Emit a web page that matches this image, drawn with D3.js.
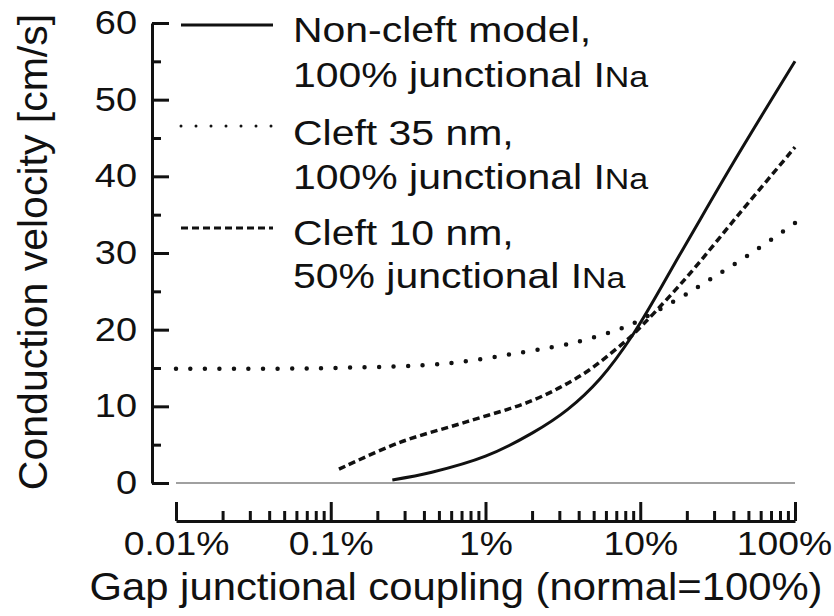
<!DOCTYPE html>
<html>
<head>
<meta charset="utf-8">
<script src="https://cdn.jsdelivr.net/npm/d3@7"></script>
<style>
    body { margin: 0; background: #fff; }
    svg { display: block; font-family: "Liberation Sans", Arial, sans-serif; }
    .axis path, .axis line { stroke: #111; stroke-width: 3; }
    .axis text { font-size: 33px; fill: #111; }
</style>
</head>
<body>
<div id="chart"></div>
<script>
// x values in % of normal coupling, y values in cm/s
var nonCleftX = [0.25, 0.45, 1.0, 2.0, 3.4, 5.5, 9.0, 19, 40, 100];
var nonCleftY = [0.4, 1.4, 3.5, 6.5, 9.6, 13.6, 19.4, 30.6, 41.8, 55];

var cleft35X = [0.01, 0.1, 0.56, 1.67, 3.9, 7.4, 9.0, 19, 28, 49, 100];
var cleft35Y = [14.9, 15.0, 15.6, 17.0, 18.4, 20.1, 20.8, 24.4, 26.5, 29.6, 33.9];

var cleft10X = [0.113, 0.28, 0.76, 2.03, 4.27, 7.1, 9.0, 18.9, 44, 100];
var cleft10Y = [1.8, 5.3, 8.0, 10.8, 14.2, 17.6, 19.4, 26.3, 35.2, 43.8];

var xTicks = [0.01, 0.1, 1, 10, 100];
var xTickLabels = ["0.01%", "0.1%", "1%", "10%", "100%"];
var yTicks = [0, 10, 20, 30, 40, 50, 60];
var yMinorTicks = [5, 15, 25, 35, 45, 55];

var legendLines = [
    ["Non-cleft model,", "100% junctional "],
    ["Cleft 35 nm,", "100% junctional "],
    ["Cleft 10 nm,", "50% junctional "]
];
var legendDash = [null, "0 15", "7 4"];

function zipSeries(xs, ys) {
    return xs.map(function(x, i) { return {x: x, y: ys[i]}; });
}

function drawChart() {
    const width = 834;
    const height = 616;
    const stretch = 1.13;

    const xScale = d3.scaleLog().domain([0.01, 100]).range([176, 795]);
    const yScale = d3.scaleLinear().domain([0, 60]).range([483, 23]);

    var svg = d3.select("#chart")
        .append("svg")
        .attr("width", width)
        .attr("height", height);

    // minor x ticks 2..9 in each decade
    var xMinor = [];
    [0.01, 0.1, 1, 10].forEach(function(d) {
        for (var k = 2; k <= 9; k++) xMinor.push(d * k);
    });

    // zero reference line
    svg.append("line")
        .attr("x1", xScale(0.01)).attr("x2", xScale(100))
        .attr("y1", yScale(0)).attr("y2", yScale(0))
        .attr("stroke", "#a0a0a0")
        .attr("stroke-width", 2);

    // y axis
    var yAxis = d3.axisLeft(yScale)
        .tickValues(yTicks)
        .tickSize(-17)
        .tickSizeOuter(0)
        .tickPadding(15);
    var gy = svg.append("g")
        .attr("class", "axis")
        .attr("transform", "translate(152,0)")
        .call(yAxis);
    gy.selectAll("text")
        .attr("x", -15 / 1.15)
        .attr("transform", "scale(1.15,1)");

    svg.append("g")
        .attr("class", "axis")
        .attr("transform", "translate(152,0)")
        .call(d3.axisLeft(yScale).tickValues(yMinorTicks).tickSize(-9).tickFormat(""))
        .select(".domain").remove();

    // x axis
    var xAxis = d3.axisBottom(xScale)
        .tickValues(xTicks)
        .tickSize(-19)
        .tickSizeOuter(0)
        .tickPadding(11)
        .tickFormat(function(d, i) { return xTickLabels[i]; });
    var gx = svg.append("g")
        .attr("class", "axis")
        .attr("transform", "translate(0,521)")
        .call(xAxis);
    gx.selectAll("text")
        .attr("x", function(d) { return d == 100 ? -11 / stretch : 0; })
        .attr("transform", "scale(" + stretch + ",1)");

    svg.append("g")
        .attr("class", "axis")
        .attr("transform", "translate(0,521)")
        .call(d3.axisBottom(xScale).tickValues(xMinor).tickSize(-10).tickFormat(""))
        .select(".domain").remove();

    // curves
    var line = d3.line()
        .x(function(d) { return xScale(d.x); })
        .y(function(d) { return yScale(d.y); })
        .curve(d3.curveCatmullRom.alpha(0.5));

    var series = [
        {data: zipSeries(nonCleftX, nonCleftY), dash: null, width: 3, cap: "butt"},
        {data: zipSeries(cleft35X, cleft35Y), dash: "0 14.5", width: 4.5, cap: "round"},
        {data: zipSeries(cleft10X, cleft10Y), dash: "7 4", width: 3.5, cap: "butt"}
    ];

    svg.selectAll("path.curve")
        .data(series)
        .enter()
        .append("path")
        .attr("class", "curve")
        .attr("d", function(s) { return line(s.data); })
        .attr("fill", "none")
        .attr("stroke", "#111")
        .attr("stroke-width", function(s) { return s.width; })
        .attr("stroke-linecap", function(s) { return s.cap; })
        .attr("stroke-dasharray", function(s) { return s.dash; });

    // legend
    var legendY = [25, 126, 228];
    var textY = [[42, 87], [145, 189], [245, 288]];

    legendLines.forEach(function(lines, i) {
        svg.append("line")
            .attr("x1", 181).attr("x2", 273)
            .attr("y1", legendY[i]).attr("y2", legendY[i])
            .attr("stroke", "#111")
            .attr("stroke-width", 3)
            .attr("stroke-linecap", i == 1 ? "round" : "butt")
            .attr("stroke-dasharray", legendDash[i]);

        svg.append("text")
            .attr("transform", "translate(293," + textY[i][0] + ") scale(1.17,1)")
            .attr("font-size", 35)
            .attr("fill", "#111")
            .text(lines[0]);

        var t = svg.append("text")
            .attr("transform", "translate(293," + textY[i][1] + ") scale(1.17,1)")
            .attr("font-size", 35)
            .attr("fill", "#111");
        t.append("tspan").text(lines[1] + "I");
        t.append("tspan").attr("font-size", 29).text("Na");
    });

    // axis titles
    svg.append("text")
        .attr("transform", "translate(456,600) scale(1.1,1)")
        .attr("text-anchor", "middle")
        .attr("font-size", 38)
        .attr("fill", "#111")
        .text("Gap junctional coupling (normal=100%)");

    svg.append("text")
        .attr("transform", "translate(47,252) rotate(-90)")
        .attr("text-anchor", "middle")
        .attr("font-size", 41)
        .attr("fill", "#111")
        .text("Conduction velocity [cm/s]");
}

drawChart();
</script>
</body>
</html>
